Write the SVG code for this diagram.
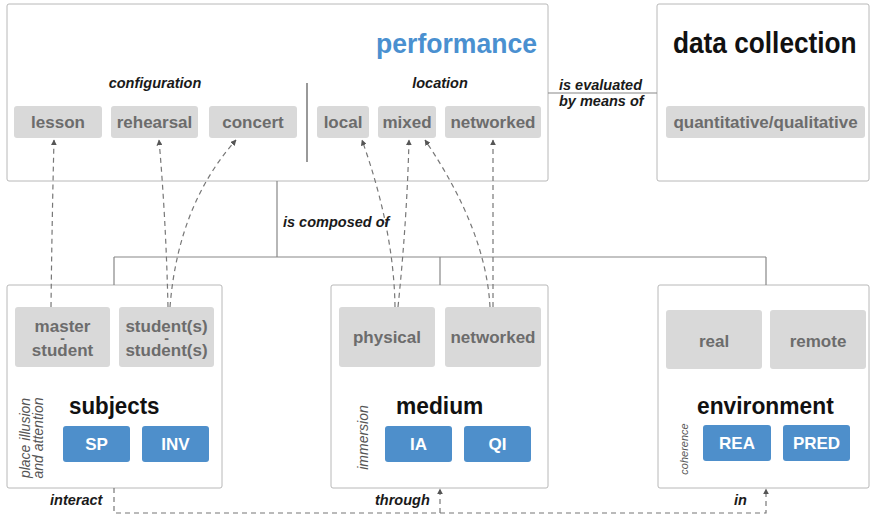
<svg xmlns="http://www.w3.org/2000/svg" width="870" height="515" viewBox="0 0 870 515">
<defs>
<style>
.frame{fill:#fff;stroke:#b8b8b8;stroke-width:1}
.gbox{fill:#d9d9d9}
.bbox{fill:#4e8fcb}
.gt{font-family:"Liberation Sans",Arial,sans-serif;font-weight:bold;font-size:17px;fill:#6c6c6c;text-anchor:middle}
.bt{font-family:"Liberation Sans",Arial,sans-serif;font-weight:bold;font-size:17px;fill:#fff;text-anchor:middle}
.title{font-family:"Liberation Sans",Arial,sans-serif;font-weight:bold;fill:#111}
.lbl{font-family:"Liberation Sans",Arial,sans-serif;font-weight:bold;font-style:italic;font-size:14.5px;fill:#1a1a1a}
.rot{font-family:"Liberation Sans",Arial,sans-serif;font-style:italic;font-size:14px;fill:#555;text-anchor:middle}
.line{fill:none;stroke:#888;stroke-width:1.2}
.dash{fill:none;stroke:#777;stroke-width:1.2;stroke-dasharray:5 4}
</style>
<marker id="ah" viewBox="0 0 10 10" refX="9" refY="5" markerWidth="6" markerHeight="6" orient="auto" markerUnits="userSpaceOnUse">
<path d="M0,0 L10,5 L0,10 Z" fill="#555"/>
</marker>
</defs>
<rect width="870" height="515" fill="#fff"/>

<g id="performance">
<rect class="frame" x="7" y="4" width="541" height="177" rx="2"/>
<text class="title" transform="translate(376,53) scale(0.95,1)" font-size="28" style="fill:#4a90d0">performance</text>
<text class="lbl" x="155" y="88" text-anchor="middle">configuration</text>
<text class="lbl" x="440" y="88" text-anchor="middle">location</text>
<line x1="307" y1="83" x2="307" y2="162" stroke="#777" stroke-width="1.5"/>
<g id="lesson"><rect class="gbox" x="14" y="106" width="88" height="32" rx="3"/><text class="gt" x="58" y="128">lesson</text></g>
<g id="rehearsal"><rect class="gbox" x="111" y="106" width="87" height="32" rx="3"/><text class="gt" x="154.5" y="128">rehearsal</text></g>
<g id="concert"><rect class="gbox" x="209" y="106" width="88" height="32" rx="3"/><text class="gt" x="253" y="128">concert</text></g>
<g id="local"><rect class="gbox" x="317" y="106" width="52" height="32" rx="3"/><text class="gt" x="343" y="128">local</text></g>
<g id="mixed"><rect class="gbox" x="378" y="106" width="58" height="32" rx="3"/><text class="gt" x="407" y="128">mixed</text></g>
<g id="networked-loc"><rect class="gbox" x="445" y="106" width="96" height="32" rx="3"/><text class="gt" x="493" y="128">networked</text></g>
</g>

<g id="data-collection">
<rect class="frame" x="657" y="4" width="212" height="177" rx="2"/>
<text class="title" transform="translate(673,53) scale(0.905,1)" font-size="29">data collection</text>
<rect class="gbox" x="666" y="106" width="199" height="32" rx="3"/>
<text class="gt" x="765.5" y="128">quantitative/qualitative</text>
</g>

<g id="subjects">
<rect class="frame" x="7" y="285" width="215" height="203" rx="2"/>
<g id="master-student"><rect class="gbox" x="15" y="307" width="95" height="60" rx="3"/>
<text class="gt" x="62.5" y="332">master<tspan x="62.5" dy="11" font-size="14">-</tspan><tspan x="62.5" dy="13">student</tspan></text></g>
<g id="students"><rect class="gbox" x="119" y="307" width="95" height="60" rx="3"/>
<text class="gt" x="166.5" y="332">student(s)<tspan x="166.5" dy="11" font-size="14">-</tspan><tspan x="166.5" dy="13">student(s)</tspan></text></g>
<text class="title" transform="translate(69,414) scale(0.93,1)" font-size="24">subjects</text>
<g id="sp"><rect class="bbox" x="63" y="426" width="67" height="36" rx="3"/><text class="bt" x="96.5" y="450">SP</text></g>
<g id="inv"><rect class="bbox" x="142" y="426" width="67" height="36" rx="3"/><text class="bt" x="175.5" y="450">INV</text></g>
<text class="rot" transform="translate(30,438) rotate(-90)">place illusion</text>
<text class="rot" transform="translate(43,438) rotate(-90)">and attention</text>
</g>

<g id="medium">
<rect class="frame" x="331" y="285" width="217" height="203" rx="2"/>
<g id="physical"><rect class="gbox" x="339" y="307" width="96" height="60" rx="3"/><text class="gt" x="387" y="343">physical</text></g>
<g id="networked-med"><rect class="gbox" x="445" y="307" width="96" height="60" rx="3"/><text class="gt" x="493" y="343">networked</text></g>
<text class="title" transform="translate(396,414) scale(0.95,1)" font-size="24">medium</text>
<g id="ia"><rect class="bbox" x="385" y="426" width="67" height="36" rx="3"/><text class="bt" x="418.5" y="450">IA</text></g>
<g id="qi"><rect class="bbox" x="464" y="426" width="67" height="36" rx="3"/><text class="bt" x="497.5" y="450">QI</text></g>
<text class="rot" transform="translate(368,437.5) rotate(-90)">immersion</text>
</g>

<g id="environment">
<rect class="frame" x="658" y="285" width="211" height="203" rx="2"/>
<g id="real"><rect class="gbox" x="666" y="310" width="96" height="59" rx="3"/><text class="gt" x="714" y="347">real</text></g>
<g id="remote"><rect class="gbox" x="770" y="310" width="96" height="59" rx="3"/><text class="gt" x="818" y="347">remote</text></g>
<text class="title" transform="translate(697,414) scale(0.95,1)" font-size="24">environment</text>
<g id="rea"><rect class="bbox" x="703" y="425" width="68" height="36" rx="3"/><text class="bt" x="737" y="449">REA</text></g>
<g id="pred"><rect class="bbox" x="783" y="425" width="67" height="36" rx="3"/><text class="bt" x="816.5" y="449">PRED</text></g>
<text class="rot" style="font-size:11px" transform="translate(688,449) rotate(-90)">coherence</text>
</g>

<g id="connectors">
<path class="line" d="M548,93 L657,93"/>
<path class="line" d="M277,181 L277,257 M114,257 L766,257 M114,257 L114,285 M440,257 L440,285 M766,257 L766,285"/>
<path class="dash" d="M51,307 Q52,220 54,140" marker-end="url(#ah)"/>
<path class="dash" d="M168,307 Q166,220 159,140" marker-end="url(#ah)"/>
<path class="dash" d="M170,307 Q178,205 236,140" marker-end="url(#ah)"/>
<path class="dash" d="M395,307 Q394,230 362,140" marker-end="url(#ah)"/>
<path class="dash" d="M398,307 Q407,220 409,140" marker-end="url(#ah)"/>
<path class="dash" d="M490,307 Q486,230 425,140" marker-end="url(#ah)"/>
<path class="dash" d="M493,307 L493,140" marker-end="url(#ah)"/>
<path class="dash" d="M114,488 L114,513 L766,513 L766,489" marker-end="url(#ah)"/>
<path class="dash" d="M440,513 L440,489" marker-end="url(#ah)"/>
<text class="lbl" x="559" y="90">is evaluated</text>
<text class="lbl" x="559" y="106">by means of</text>
<text class="lbl" x="283" y="227">is composed of</text>
<text class="lbl" x="50" y="505">interact</text>
<text class="lbl" x="375" y="505">through</text>
<text class="lbl" x="734" y="505">in</text>
</g>
</svg>
